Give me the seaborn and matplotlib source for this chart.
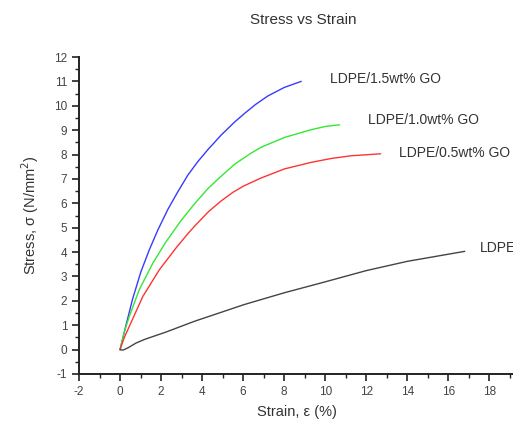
import matplotlib
matplotlib.use("Agg")
import matplotlib.pyplot as plt
import seaborn as sns
import pandas as pd
from matplotlib.ticker import MultipleLocator

sns.set_style("ticks")
plt.rcParams['font.family'] = ['Liberation Sans', 'DejaVu Sans']
plt.rcParams['axes.unicode_minus'] = False

# Data
strain_15 = [0.0, 0.29, 0.62, 1.02, 1.43, 1.84, 2.33, 2.8, 3.3, 3.8, 4.28, 4.93, 5.58, 6.06, 6.6, 7.2, 8.0, 8.83]
stress_15 = [0.0, 1.0, 2.1, 3.2, 4.1, 4.9, 5.75, 6.45, 7.15, 7.72, 8.2, 8.8, 9.33, 9.68, 10.05, 10.4, 10.75, 11.0]

strain_10 = [0.0, 0.2, 0.45, 0.94, 1.60, 2.24, 2.98, 3.6, 4.28, 4.77, 5.58, 6.39, 6.88, 8.01, 9.32, 10.0, 10.7]
stress_10 = [0.0, 0.7, 1.36, 2.46, 3.55, 4.42, 5.3, 5.95, 6.6, 6.99, 7.6, 8.06, 8.3, 8.7, 9.02, 9.15, 9.22]

strain_05 = [0.0, 0.2, 0.45, 1.11, 1.92, 2.73, 3.30, 3.62, 4.3, 4.93, 5.5, 6.0, 6.88, 8.01, 9.32, 10.3, 11.27, 12.7]
stress_05 = [0.0, 0.48, 0.95, 2.18, 3.28, 4.17, 4.75, 5.05, 5.65, 6.1, 6.45, 6.7, 7.04, 7.41, 7.68, 7.84, 7.95, 8.03]

strain_00 = [0.0, 0.15, 0.4, 0.78, 1.2, 2.24, 3.62, 6.06, 8.0, 10.0, 12.0, 14.0, 16.8]
stress_00 = [0.0, -0.02, 0.08, 0.27, 0.42, 0.72, 1.16, 1.85, 2.33, 2.78, 3.24, 3.62, 4.03]

labels = ["LDPE/1.5wt% GO", "LDPE/1.0wt% GO", "LDPE/0.5wt% GO", "LDPE"]
colors = ["#3a3aff", "#33e833", "#ff3333", "#444444"]
label_x = [10.25, 12.1, 13.6, 17.55]
label_y = [11.1, 9.43, 8.07, 4.18]

frames = []
for lab, xs, ys in zip(labels,
                       [strain_15, strain_10, strain_05, strain_00],
                       [stress_15, stress_10, stress_05, stress_00]):
    frames.append(pd.DataFrame({"strain": xs, "stress": ys, "series": lab}))
df = pd.concat(frames, ignore_index=True)

fig = plt.figure(figsize=(5.13, 4.21), dpi=100)
ax = fig.add_axes([79/513, 47/421, 435/513, 317/421])

sns.lineplot(data=df, x="strain", y="stress", hue="series", hue_order=labels,
             palette=colors, ax=ax, linewidth=1.0, legend=False,
             estimator=None, sort=False)
for ln in ax.lines:
    ln.set_solid_joinstyle("round")

ax.set_xlim(-2, 19.2)
ax.set_ylim(-1, 12)
ax.xaxis.set_major_locator(MultipleLocator(2))
ax.xaxis.set_minor_locator(MultipleLocator(1))
ax.yaxis.set_major_locator(MultipleLocator(1))
ax.yaxis.set_minor_locator(MultipleLocator(0.5))
ax.tick_params(which="major", direction="out", length=5, width=1.2,
               labelsize=8.5, labelcolor="#444444", color="#222222")
ax.tick_params(which="minor", direction="out", length=3, width=1.0, color="#222222")
for s in ["top", "right"]:
    ax.spines[s].set_visible(False)
for s in ["left", "bottom"]:
    ax.spines[s].set_linewidth(1.4)
    ax.spines[s].set_color("#222222")

ax.set_xlabel("Strain, \u03b5 (%)", fontsize=10.5, color="#333333", labelpad=5)
ax.set_ylabel("Stress, \u03c3 (N/mm$^2$)", fontsize=10.5, color="#333333", labelpad=9)
fig.text(303/513, 1 - 20/421, "Stress vs Strain", ha="center", va="center",
         fontsize=11, color="#333333")

for lab, tx, ty in zip(labels, label_x, label_y):
    ax.text(tx, ty, lab, fontsize=10, color="#333333", ha="left", va="center",
            clip_on=False)

fig.savefig("out.png", dpi=100)
